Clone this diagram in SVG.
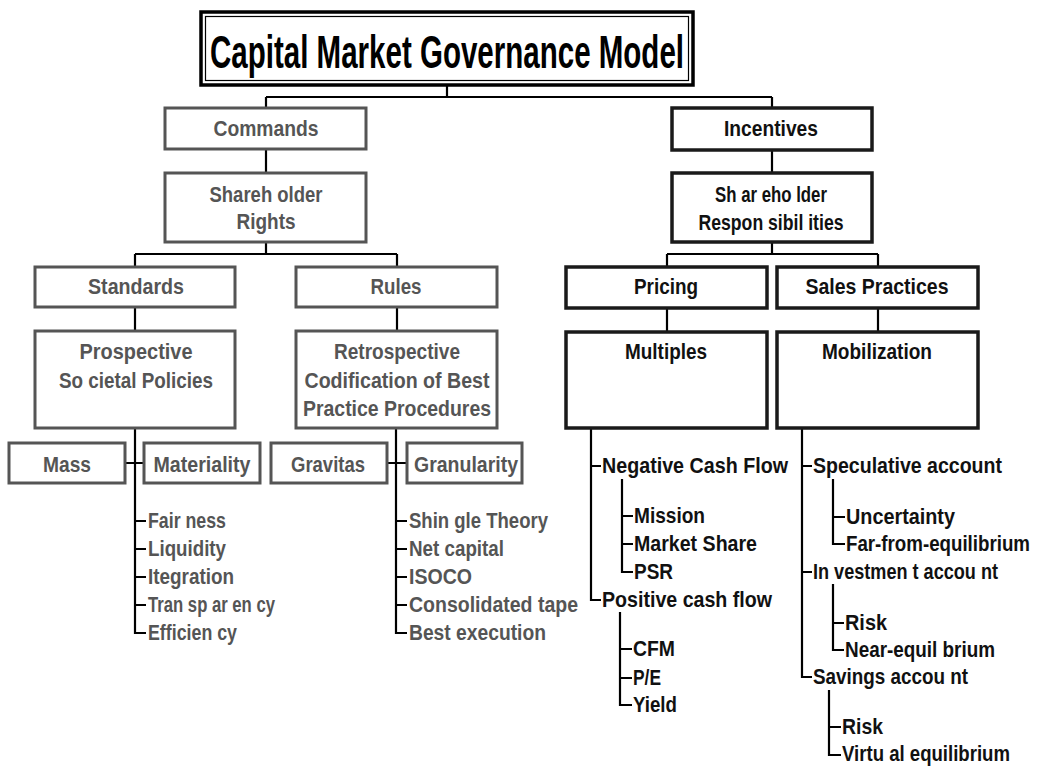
<svg xmlns="http://www.w3.org/2000/svg" width="1040" height="766" viewBox="0 0 1040 766">
<style>
text{font-family:"Liberation Sans",Arial,sans-serif;font-weight:bold;font-size:22px}
.g rect{fill:#fff;stroke:#555;stroke-width:3}
.g text{fill:#555}
.k rect{fill:#fff;stroke:#1a1a1a;stroke-width:3.5}
.k text{fill:#111}
.c{text-anchor:middle}
#title text{font-size:47px;fill:#000;text-anchor:middle}
#connectors path{fill:none;stroke:#000;stroke-width:2.2}
</style>
<rect width="1040" height="766" fill="#fff"/>
<g id="connectors">
<path d="M447,85V97M266,97H772M266,97V108M772,97V108"/>
<path d="M266,149V173M772,150V173"/>
<path d="M266,242V254M135,254H397M135,254V267M397,254V267"/>
<path d="M772,242V254M667,254H878M667,254V267M878,254V267"/>
<path d="M135,307V331M397,307V331M667,308V332M878,308V332"/>
<path d="M135,428V633H146M125,463H144M135,521H146M135,549H146M135,577H146M135,605H146"/>
<path d="M396,428V633H407M387,463H407M396,521H407M396,549H407M396,577H407M396,605H407"/>
<path d="M591,428V600H601M591,466H601M622,479V572H633M622,516H633M622,544H633M620,612V705H632M620,649H632M620,678H632"/>
<path d="M802,428V677H812M802,466H812M802,572H812M833,479V544H845M833,517H845M833,584V650H844M833,623H844M829,690V755H841M829,727H841"/>
</g>
<g id="title">
<rect x="201" y="12" width="492" height="73" fill="#fff" stroke="#000" stroke-width="3.5"/>
<rect x="205.5" y="16.5" width="483" height="64" fill="none" stroke="#000" stroke-width="1.2"/>
<text x="447" y="68" textLength="474" lengthAdjust="spacingAndGlyphs">Capital Market Governance Model</text>
</g>
<g class="g">
<g id="commands"><rect x="165" y="108" width="201" height="41"/><text class="c" x="266" y="136" textLength="105" lengthAdjust="spacingAndGlyphs">Commands</text></g>
<g id="shareholder-rights"><rect x="165" y="173" width="201" height="69"/><text class="c" x="266" y="202" textLength="113" lengthAdjust="spacingAndGlyphs">Shareh older</text><text class="c" x="266" y="229" textLength="59" lengthAdjust="spacingAndGlyphs">Rights</text></g>
<g id="standards"><rect x="35" y="267" width="200" height="40"/><text class="c" x="136" y="294" textLength="96" lengthAdjust="spacingAndGlyphs">Standards</text></g>
<g id="rules"><rect x="296" y="267" width="201" height="40"/><text class="c" x="396" y="294" textLength="51" lengthAdjust="spacingAndGlyphs">Rules</text></g>
<g id="prospective"><rect x="35" y="331" width="200" height="97"/><text class="c" x="136" y="359" textLength="113" lengthAdjust="spacingAndGlyphs">Prospective</text><text class="c" x="136" y="388" textLength="154" lengthAdjust="spacingAndGlyphs">So cietal Policies</text></g>
<g id="retrospective"><rect x="296" y="331" width="201" height="97"/><text class="c" x="397" y="359" textLength="126" lengthAdjust="spacingAndGlyphs">Retrospective</text><text class="c" x="397" y="388" textLength="185" lengthAdjust="spacingAndGlyphs">Codification of Best</text><text class="c" x="397" y="416" textLength="188" lengthAdjust="spacingAndGlyphs">Practice Procedures</text></g>
<g id="mass"><rect x="9" y="443" width="116" height="40"/><text class="c" x="67" y="472" textLength="48" lengthAdjust="spacingAndGlyphs">Mass</text></g>
<g id="materiality"><rect x="144" y="443" width="116" height="40"/><text class="c" x="202" y="472" textLength="97" lengthAdjust="spacingAndGlyphs">Materiality</text></g>
<g id="gravitas"><rect x="271" y="443" width="116" height="40"/><text class="c" x="328" y="472" textLength="74" lengthAdjust="spacingAndGlyphs">Gravitas</text></g>
<g id="granularity"><rect x="407" y="443" width="115" height="40"/><text class="c" x="466" y="472" textLength="104" lengthAdjust="spacingAndGlyphs">Granularity</text></g>
<g id="standards-list">
<text x="148" y="528" textLength="78" lengthAdjust="spacingAndGlyphs">Fair ness</text>
<text x="148" y="556" textLength="78" lengthAdjust="spacingAndGlyphs">Liquidity</text>
<text x="148" y="584" textLength="86" lengthAdjust="spacingAndGlyphs">Itegration</text>
<text x="148" y="612" textLength="127" lengthAdjust="spacingAndGlyphs">Tran sp ar en cy</text>
<text x="148" y="640" textLength="89" lengthAdjust="spacingAndGlyphs">Efficien cy</text>
</g>
<g id="rules-list">
<text x="409" y="528" textLength="139" lengthAdjust="spacingAndGlyphs">Shin gle Theory</text>
<text x="409" y="556" textLength="95" lengthAdjust="spacingAndGlyphs">Net capital</text>
<text x="409" y="584" textLength="63" lengthAdjust="spacingAndGlyphs">ISOCO</text>
<text x="409" y="612" textLength="169" lengthAdjust="spacingAndGlyphs">Consolidated tape</text>
<text x="409" y="640" textLength="137" lengthAdjust="spacingAndGlyphs">Best execution</text>
</g>
</g>
<g class="k">
<g id="incentives"><rect x="672" y="108" width="200" height="42"/><text class="c" x="771" y="136" textLength="94" lengthAdjust="spacingAndGlyphs">Incentives</text></g>
<g id="shareholder-responsibilities"><rect x="672" y="173" width="200" height="69"/><text class="c" x="771" y="202" textLength="112" lengthAdjust="spacingAndGlyphs">Sh ar eho lder</text><text class="c" x="771" y="230" textLength="145" lengthAdjust="spacingAndGlyphs">Respon sibil ities</text></g>
<g id="pricing"><rect x="566" y="267" width="201" height="41"/><text class="c" x="666" y="294" textLength="64" lengthAdjust="spacingAndGlyphs">Pricing</text></g>
<g id="sales-practices"><rect x="777" y="267" width="201" height="41"/><text class="c" x="877" y="294" textLength="143" lengthAdjust="spacingAndGlyphs">Sales Practices</text></g>
<g id="multiples"><rect x="566" y="332" width="201" height="96"/><text class="c" x="666" y="359" textLength="82" lengthAdjust="spacingAndGlyphs">Multiples</text></g>
<g id="mobilization"><rect x="777" y="332" width="201" height="96"/><text class="c" x="877" y="359" textLength="110" lengthAdjust="spacingAndGlyphs">Mobilization</text></g>
<g id="multiples-list">
<text x="602" y="473" textLength="186" lengthAdjust="spacingAndGlyphs">Negative Cash Flow</text>
<text x="634" y="523" textLength="71" lengthAdjust="spacingAndGlyphs">Mission</text>
<text x="634" y="551" textLength="123" lengthAdjust="spacingAndGlyphs">Market Share</text>
<text x="634" y="579" textLength="39" lengthAdjust="spacingAndGlyphs">PSR</text>
<text x="602" y="607" textLength="170" lengthAdjust="spacingAndGlyphs">Positive cash flow</text>
<text x="633" y="656" textLength="42" lengthAdjust="spacingAndGlyphs">CFM</text>
<text x="633" y="685" textLength="28" lengthAdjust="spacingAndGlyphs">P/E</text>
<text x="633" y="712" textLength="44" lengthAdjust="spacingAndGlyphs">Yield</text>
</g>
<g id="mobilization-list">
<text x="813" y="473" textLength="189" lengthAdjust="spacingAndGlyphs">Speculative account</text>
<text x="846" y="524" textLength="109" lengthAdjust="spacingAndGlyphs">Uncertainty</text>
<text transform="translate(846,551) scale(0.8,1)" textLength="230" lengthAdjust="spacingAndGlyphs">Far-from-equilibrium</text>
<text x="813" y="579" textLength="185" lengthAdjust="spacingAndGlyphs">In vestmen t accou nt</text>
<text x="845" y="630" textLength="42" lengthAdjust="spacingAndGlyphs">Risk</text>
<text x="845" y="657" textLength="150" lengthAdjust="spacingAndGlyphs">Near-equil brium</text>
<text x="813" y="684" textLength="155" lengthAdjust="spacingAndGlyphs">Savings accou nt</text>
<text x="842" y="734" textLength="41" lengthAdjust="spacingAndGlyphs">Risk</text>
<text x="842" y="761" textLength="168" lengthAdjust="spacingAndGlyphs">Virtu al equilibrium</text>
</g>
</g>
</svg>
